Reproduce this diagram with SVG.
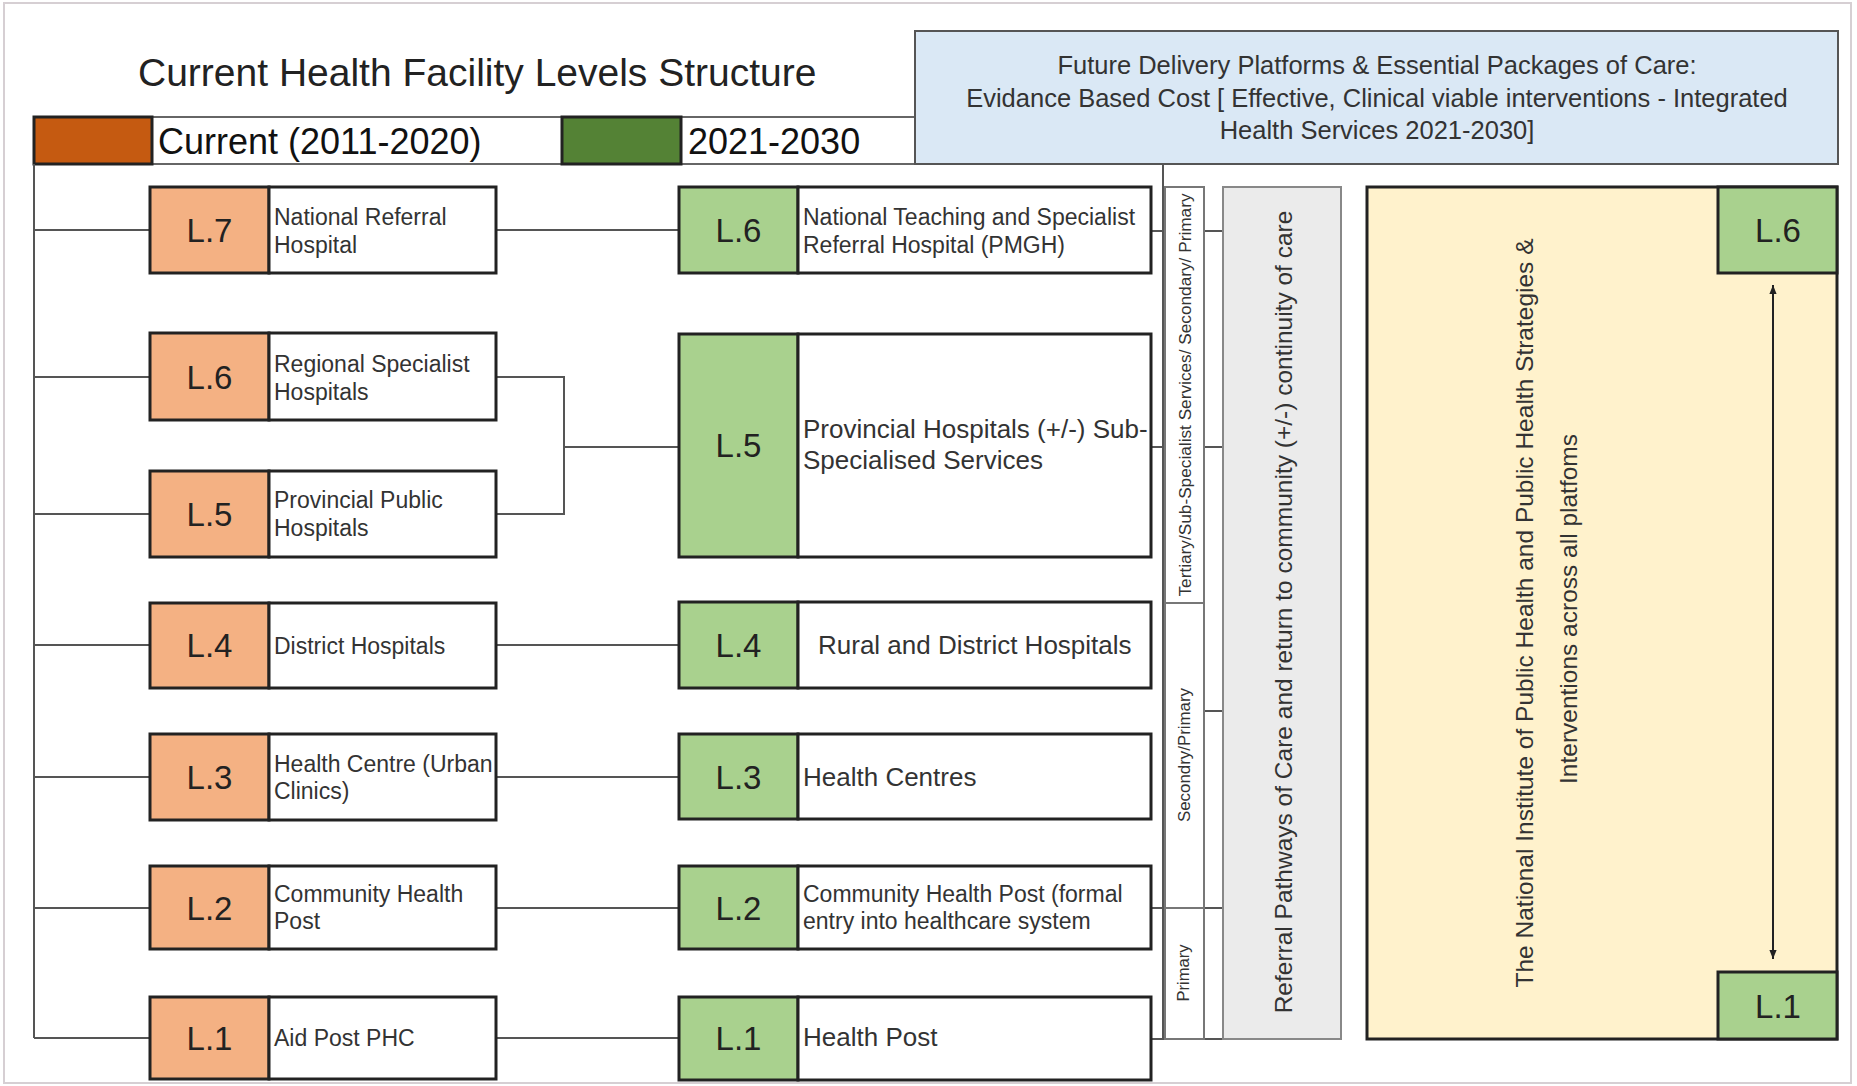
<svg xmlns="http://www.w3.org/2000/svg" width="1857" height="1086" viewBox="0 0 1857 1086">
<defs>
<style>
text{font-family:"Liberation Sans",Arial,sans-serif}
.frame{fill:#fff;stroke:#d6cfd3;stroke-width:2}
.lvo{fill:#f4b183;stroke:#222;stroke-width:3}
.lvg{fill:#a9d18e;stroke:#222;stroke-width:3}
.tb{fill:#fff;stroke:#222;stroke-width:3}
.lbl{font-size:33px;fill:#222;text-anchor:middle}
.d{font-size:23px;fill:#333}
.dl{font-size:26px;fill:#333}
.conn{stroke:#555;stroke-width:2;fill:none}
.col{fill:#fff;stroke:#777;stroke-width:2}
.vt{font-size:16px;fill:#333;text-anchor:middle}
.big{font-size:24.5px;fill:#333;text-anchor:middle}
.hdr{font-size:25.5px;fill:#333;text-anchor:middle}
</style>
<marker id="ah" viewBox="0 0 10 10" refX="10" refY="5" markerWidth="9" markerHeight="9" markerUnits="userSpaceOnUse" orient="auto-start-reverse">
<path d="M0,1 L10,5 L0,9 Z" fill="#222"/>
</marker>
</defs>

<rect class="frame" x="4" y="3" width="1847" height="1080"/>

<g id="title">
<text x="138" y="86" font-size="39" fill="#222">Current Health Facility Levels Structure</text>
</g>

<g id="legend">
<rect x="34" y="117" width="881" height="47" fill="#fff" stroke="#666" stroke-width="2"/>
<rect x="34" y="117" width="118" height="47" fill="#c55a11" stroke="#222" stroke-width="3"/>
<text x="158" y="154" font-size="36" fill="#111">Current (2011-2020)</text>
<rect x="562" y="117" width="119" height="47" fill="#548235" stroke="#222" stroke-width="3"/>
<text x="688" y="154" font-size="36" fill="#111">2021-2030</text>
</g>

<g id="future-header">
<rect x="915" y="31" width="923" height="133" fill="#dae8f5" stroke="#555" stroke-width="2"/>
<text class="hdr" x="1377" y="74">Future Delivery Platforms &amp; Essential Packages of Care:</text>
<text class="hdr" x="1377" y="107">Evidance Based Cost [ Effective, Clinical viable interventions - Integrated</text>
<text class="hdr" x="1377" y="139">Health Services 2021-2030]</text>
</g>

<g id="connectors">
<path class="conn" d="M34 164 V1038"/>
<path class="conn" d="M34 230 H150 M34 377 H150 M34 514 H150 M34 645 H150 M34 777 H150 M34 908 H150 M34 1038 H150"/>
<path class="conn" d="M496 230 H679 M496 645 H679 M496 777 H679 M496 908 H679 M496 1038 H679"/>
<path class="conn" d="M496 377 H564 V514 H496 M564 447 H679"/>
<path class="conn" d="M1163 164 V1039"/>
<path class="conn" d="M1151 231 H1163 M1151 447 H1163 M1151 908 H1223 M1151 1039 H1223"/>
<path class="conn" d="M1204 231 H1223 M1204 447 H1223 M1204 711 H1223"/>
</g>

<g id="cur-l7">
<rect class="lvo" x="150" y="187" width="119" height="86"/>
<rect class="tb" x="269" y="187" width="227" height="86"/>
<text class="lbl" x="209.5" y="242">L.7</text>
<text class="d" x="274" y="225">National Referral</text>
<text class="d" x="274" y="253">Hospital</text>
</g>
<g id="cur-l6">
<rect class="lvo" x="150" y="333" width="119" height="87"/>
<rect class="tb" x="269" y="333" width="227" height="87"/>
<text class="lbl" x="209.5" y="389">L.6</text>
<text class="d" x="274" y="372">Regional Specialist</text>
<text class="d" x="274" y="400">Hospitals</text>
</g>
<g id="cur-l5">
<rect class="lvo" x="150" y="471" width="119" height="86"/>
<rect class="tb" x="269" y="471" width="227" height="86"/>
<text class="lbl" x="209.5" y="526">L.5</text>
<text class="d" x="274" y="508">Provincial Public</text>
<text class="d" x="274" y="536">Hospitals</text>
</g>
<g id="cur-l4">
<rect class="lvo" x="150" y="603" width="119" height="85"/>
<rect class="tb" x="269" y="603" width="227" height="85"/>
<text class="lbl" x="209.5" y="657">L.4</text>
<text class="d" x="274" y="654">District Hospitals</text>
</g>
<g id="cur-l3">
<rect class="lvo" x="150" y="734" width="119" height="86"/>
<rect class="tb" x="269" y="734" width="227" height="86"/>
<text class="lbl" x="209.5" y="789">L.3</text>
<text class="d" x="274" y="772">Health Centre (Urban</text>
<text class="d" x="274" y="799">Clinics)</text>
</g>
<g id="cur-l2">
<rect class="lvo" x="150" y="866" width="119" height="83"/>
<rect class="tb" x="269" y="866" width="227" height="83"/>
<text class="lbl" x="209.5" y="920">L.2</text>
<text class="d" x="274" y="902">Community Health</text>
<text class="d" x="274" y="929">Post</text>
</g>
<g id="cur-l1">
<rect class="lvo" x="150" y="997" width="119" height="82"/>
<rect class="tb" x="269" y="997" width="227" height="82"/>
<text class="lbl" x="209.5" y="1050">L.1</text>
<text class="d" x="274" y="1046">Aid Post PHC</text>
</g>

<g id="new-l6">
<rect class="lvg" x="679" y="187" width="119" height="86"/>
<rect class="tb" x="798" y="187" width="353" height="86"/>
<text class="lbl" x="738.5" y="242">L.6</text>
<text class="d" x="803" y="225">National Teaching and Specialist</text>
<text class="d" x="803" y="253">Referral Hospital (PMGH)</text>
</g>
<g id="new-l5">
<rect class="lvg" x="679" y="334" width="119" height="223"/>
<rect class="tb" x="798" y="334" width="353" height="223"/>
<text class="lbl" x="738.5" y="457">L.5</text>
<text class="dl" x="803" y="438" font-size="25.5">Provincial Hospitals (+/-) Sub-</text>
<text class="dl" x="803" y="469" font-size="25.5">Specialised Services</text>
</g>
<g id="new-l4">
<rect class="lvg" x="679" y="602" width="119" height="86"/>
<rect class="tb" x="798" y="602" width="353" height="86"/>
<text class="lbl" x="738.5" y="657">L.4</text>
<text class="dl" x="818" y="654">Rural and District Hospitals</text>
</g>
<g id="new-l3">
<rect class="lvg" x="679" y="734" width="119" height="85"/>
<rect class="tb" x="798" y="734" width="353" height="85"/>
<text class="lbl" x="738.5" y="789">L.3</text>
<text class="dl" x="803" y="786">Health Centres</text>
</g>
<g id="new-l2">
<rect class="lvg" x="679" y="866" width="119" height="83"/>
<rect class="tb" x="798" y="866" width="353" height="83"/>
<text class="lbl" x="738.5" y="920">L.2</text>
<text class="d" x="803" y="902">Community Health Post (formal</text>
<text class="d" x="803" y="929">entry into healthcare system</text>
</g>
<g id="new-l1">
<rect class="lvg" x="679" y="997" width="119" height="83"/>
<rect class="tb" x="798" y="997" width="353" height="83"/>
<text class="lbl" x="738.5" y="1050">L.1</text>
<text class="dl" x="803" y="1046">Health Post</text>
</g>

<g id="service-tiers">
<rect class="col" x="1165" y="187" width="39" height="852"/>
<path d="M1165 603 H1204 M1165 908 H1204" stroke="#777" stroke-width="2"/>
<text class="vt" transform="translate(1185,395) rotate(-90)" x="0" y="5.5" textLength="403" lengthAdjust="spacingAndGlyphs">Tertiary/Sub-Specialist Services/ Secondary/ Primary</text>
<text class="vt" transform="translate(1184,755) rotate(-90)" x="0" y="5.5" textLength="134" lengthAdjust="spacingAndGlyphs">Secondry/Primary</text>
<text class="vt" transform="translate(1183,973) rotate(-90)" x="0" y="5.5" textLength="57" lengthAdjust="spacingAndGlyphs">Primary</text>
</g>

<g id="referral">
<rect x="1223" y="187" width="118" height="852" fill="#ebebeb" stroke="#888" stroke-width="2"/>
<text class="big" transform="translate(1283,612) rotate(-90)" x="0" y="8.5">Referral Pathways of Care and return to community (+/-) continuity of care</text>
</g>

<g id="public-health">
<rect x="1367" y="187" width="470" height="852" fill="#fff2cc" stroke="#222" stroke-width="3"/>
<text class="big" transform="translate(1524,613) rotate(-90)" x="0" y="8.5">The National Institute of Public Health and Public Health Strategies &amp;</text>
<text class="big" transform="translate(1568,609) rotate(-90)" x="0" y="8.5">Interventions across all platfoms</text>
</g>
<g id="ph-l6">
<rect class="lvg" x="1718" y="187" width="119" height="86"/>
<text class="lbl" x="1778" y="242" fill="#333">L.6</text>
</g>
<g id="ph-l1">
<rect class="lvg" x="1718" y="972" width="119" height="67"/>
<text class="lbl" x="1778" y="1018" fill="#333">L.1</text>
</g>
<g id="ph-arrow">
<line x1="1773" y1="285" x2="1773" y2="959" stroke="#222" stroke-width="2" marker-start="url(#ah)" marker-end="url(#ah)"/>
</g>
</svg>
